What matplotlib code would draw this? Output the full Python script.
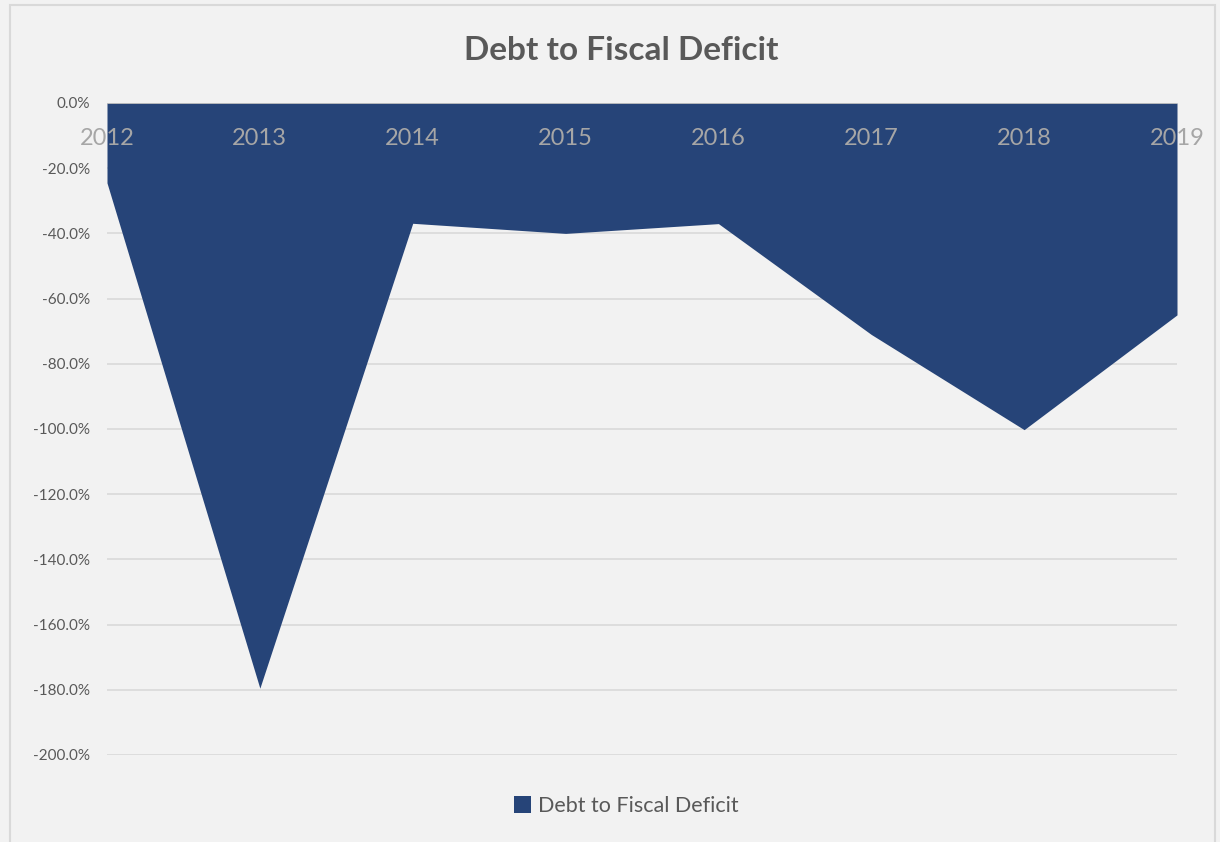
import matplotlib.pyplot as plt
from matplotlib.patches import Rectangle, Patch
from matplotlib.ticker import FuncFormatter

plt.rcParams['font.family'] = ['Lato', 'DejaVu Sans']

years = ['2012', '2013', '2014', '2015', '2016', '2017', '2018', '2019']
debt_to_deficit = [-24.5, -179.5, -36.9, -40.0, -37.0, -71.0, -100.2, -65.0]

fill_col = '#264478'
bg_col = '#F2F2F2'
txt_col = '#595959'
grid_col = '#D9D9D9'

fig = plt.figure(figsize=(12.2, 8.42), dpi=100, facecolor=bg_col)
# chart border
fig.patches.append(Rectangle((10 / 1220, -0.01), 1205 / 1220, 1 - 5 / 842 + 0.01,
                             transform=fig.transFigure, fill=False,
                             edgecolor=grid_col, linewidth=1.5))

ax = fig.add_axes([107 / 1220, 1 - 755 / 842, 1070 / 1220, 652 / 842])
ax.set_facecolor(bg_col)

x = list(range(len(years)))
ax.fill_between(x, 0, debt_to_deficit, color=fill_col, linewidth=0, zorder=2)

ax.set_xlim(0, len(years) - 1)
ax.set_ylim(-200, 0)
ax.set_yticks(range(-200, 1, 20))
ax.yaxis.set_major_formatter(FuncFormatter(lambda v, p: f'{v:.1f}%'))
ax.tick_params(axis='y', length=0, labelsize=11, labelcolor=txt_col, pad=12)
ax.set_xticks([])
ax.grid(axis='y', color=grid_col, linewidth=1.2, zorder=1)
for s in ax.spines.values():
    s.set_visible(False)
ax.axhline(0, color='#BFBFBF', linewidth=1.2, zorder=3)

# category labels sit just under the zero line, over the fill
for i, yr in enumerate(years):
    ax.text(i, -10.8, yr, ha='center', va='center', fontsize=17,
            color='#A6A6A6', zorder=4)

fig.text(621 / 1220, 1 - 50 / 842, 'Debt to Fiscal Deficit', ha='center', va='center',
         fontsize=24, fontweight='bold', color=txt_col)

fig.legend(handles=[Patch(facecolor=fill_col, label='Debt to Fiscal Deficit')],
           loc='center', bbox_to_anchor=(626 / 1220, 1 - 806 / 842), frameon=False,
           fontsize=15.5, labelcolor=txt_col, handlelength=0.8, handleheight=0.8,
           handletextpad=0.3)

fig.savefig('out.png', dpi=100, facecolor=bg_col)
